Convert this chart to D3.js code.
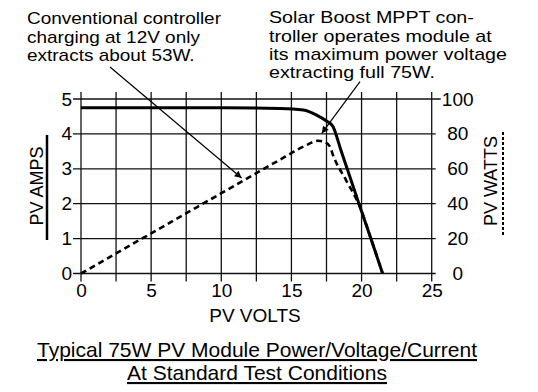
<!DOCTYPE html>
<html><head><meta charset="utf-8">
<script src="https://cdn.jsdelivr.net/npm/d3@7"></script>
<style>
html,body{margin:0;padding:0;background:#fff;}
svg{display:block;font-family:"Liberation Sans",Arial,Helvetica,sans-serif;}
</style></head>
<body>
<svg id="chart" width="538" height="392"></svg>
<script>
// ---- data ----
const voltTicks = [0, 5, 10, 15, 20, 25];
const voltGrid = [0, 2.5, 5, 7.5, 10, 12.5, 15, 17.5, 20, 22.5, 25];
const ampTicks = [0, 1, 2, 3, 4, 5];
const wattTicks = [0, 20, 40, 60, 80, 100];
// I-V curve (volts, amps) - solid
const currentVolts = [0, 5, 10, 14.2, 15.85, 16.8, 17.5, 17.96, 18.5, 19, 20, 21, 21.5];
const currentAmps  = [4.75, 4.75, 4.75, 4.73, 4.685, 4.54, 4.37, 4.21, 3.57, 2.97, 1.78, 0.6, 0];
// P-V curve (volts, watts) - dashed
const powerVolts = [0, 5, 10, 12.5, 15, 15.5, 16, 16.5, 16.9, 17.3, 17.75, 17.96, 18.9, 19.89, 20.7, 21.5];
const powerWatts = [0, 23, 46, 57.5, 69, 71.3, 73.3, 75.2, 76.1, 75.6, 72.7, 67.9, 53.4, 38.1, 19.2, 0];
const noteLeft = ["Conventional controller", "charging at 12V only", "extracts about 53W."];
const noteRight = ["Solar Boost MPPT con-", "troller operates module at", "its maximum power voltage", "extracting full 75W."];
const titleLines = ["Typical 75W PV Module Power/Voltage/Current", "At Standard Test Conditions"];

const svg = d3.select("#chart");
const x = d3.scaleLinear().domain([0, 25]).range([81, 431.7]);
const yA = d3.scaleLinear().domain([0, 5]).range([273.5, 99]);
const yW = d3.scaleLinear().domain([0, 100]).range([273.5, 99]);

// arrow marker
svg.append("defs").append("marker")
  .attr("id", "arr").attr("viewBox", "0 0 10 10").attr("refX", 10).attr("refY", 5)
  .attr("markerWidth", 12).attr("markerHeight", 7).attr("markerUnits", "userSpaceOnUse")
  .attr("orient", "auto")
  .append("path").attr("d", "M0,0 L10,5 L0,10 Z").attr("fill", "#000");

// grid
const g = svg.append("g");
g.selectAll("line.v").data(voltGrid).join("line")
  .attr("x1", d => x(d)).attr("x2", d => x(d))
  .attr("y1", yA(5) - 7).attr("y2", yA(0) + 8)
  .attr("stroke", "#111").attr("stroke-width", 1.3);
g.selectAll("line.h").data(ampTicks).join("line")
  .attr("x1", x(0) - 8).attr("x2", d => d === 5 ? x(25) + 9 : x(25) + 4)
  .attr("y1", d => yA(d)).attr("y2", d => yA(d))
  .attr("stroke", "#111").attr("stroke-width", 1.3);

// axes labels via d3 axes
const fontTick = 19;
const axL = svg.append("g").attr("transform", `translate(${x(0) - 9},0)`)
  .call(d3.axisLeft(yA).tickValues(ampTicks).tickSize(0).tickPadding(0).tickFormat(d3.format("d")));
const axR = svg.append("g").attr("transform", `translate(${x(25) + 26},0)`)
  .call(d3.axisRight(yW).tickValues(wattTicks).tickSize(0).tickPadding(0).tickFormat(d3.format("d")));
axR.selectAll("text").attr("text-anchor", "middle").attr("x", 0);
const axB = svg.append("g").attr("transform", `translate(0,${yA(0) + 10})`)
  .call(d3.axisBottom(x).tickValues(voltTicks).tickSize(0).tickPadding(0).tickFormat(d3.format("d")));
axB.selectAll("text").attr("dy", "0.72em");
[axL, axR, axB].forEach(a => {
  a.select(".domain").remove();
  a.selectAll("text").attr("font-size", fontTick).attr("fill", "#000")
    .attr("font-family", '"Liberation Sans",Arial,sans-serif');
});

// curves
const lineI = d3.line().x(d => x(d[0])).y(d => yA(d[1])).curve(d3.curveMonotoneX);
const lineP = d3.line().x(d => x(d[0])).y(d => yW(d[1])).curve(d3.curveMonotoneX);
svg.append("path").datum(powerVolts.map((v, i) => [v, powerWatts[i]]))
  .attr("d", lineP).attr("fill", "none").attr("stroke", "#000")
  .attr("stroke-width", 2.6).attr("stroke-dasharray", "6,4");
svg.append("path").datum(currentVolts.map((v, i) => [v, currentAmps[i]]))
  .attr("d", lineI).attr("fill", "none").attr("stroke", "#000")
  .attr("stroke-width", 3).attr("stroke-linejoin", "round");

// annotation arrows
svg.append("line").attr("x1", 110).attr("y1", 67)
  .attr("x2", x(11.45)).attr("y2", yW(54.7))
  .attr("stroke", "#000").attr("stroke-width", 1.2).attr("marker-end", "url(#arr)");
svg.append("line").attr("x1", 360).attr("y1", 81.7)
  .attr("x2", x(17.16)).attr("y2", yW(80.3))
  .attr("stroke", "#000").attr("stroke-width", 1.2).attr("marker-end", "url(#arr)");

// annotation texts (slightly widened glyphs, as in the reference typeface)
svg.append("text").attr("transform", "translate(27,0) scale(1.13,1)")
  .attr("font-size", 16.8).attr("fill", "#000")
  .selectAll("tspan").data(noteLeft).join("tspan")
  .attr("x", 0).attr("y", (d, i) => 24.5 + i * 18.2).text(d => d);
svg.append("text").attr("transform", "translate(269,0) scale(1.17,1)")
  .attr("font-size", 16.8).attr("fill", "#000")
  .selectAll("tspan").data(noteRight).join("tspan")
  .attr("x", 0).attr("y", (d, i) => 23.5 + i * 18.2).text(d => d);

// axis titles
svg.append("text").attr("transform", "translate(43,186) rotate(-90)")
  .attr("text-anchor", "middle").attr("font-size", 18).text("PV AMPS");
svg.append("line").attr("x1", 47).attr("x2", 47).attr("y1", 135).attr("y2", 240)
  .attr("stroke", "#000").attr("stroke-width", 2.5);
svg.append("text").attr("transform", "translate(497,181) rotate(-90)")
  .attr("text-anchor", "middle").attr("font-size", 18).text("PV WATTS");
svg.append("line").attr("x1", 503).attr("x2", 503).attr("y1", 132).attr("y2", 237)
  .attr("stroke", "#000").attr("stroke-width", 2).attr("stroke-dasharray", "3,2");
svg.append("text").attr("x", 255).attr("y", 322).attr("text-anchor", "middle")
  .attr("font-size", 19).text("PV VOLTS");

// title
svg.selectAll("text.title").data(titleLines).join("text").attr("class", "title")
  .attr("x", 257).attr("y", (d, i) => 357 + i * 23).attr("text-anchor", "middle")
  .attr("font-size", 21).attr("text-decoration", "underline").text(d => d);
</script>
</body></html>
